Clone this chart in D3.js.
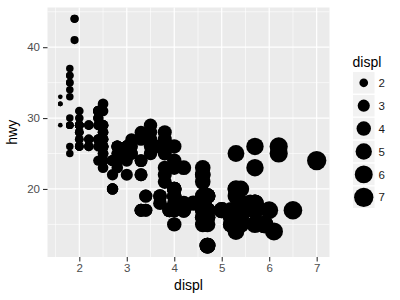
<!DOCTYPE html>
<html><head><meta charset="utf-8">
<script src="https://cdn.jsdelivr.net/npm/d3@7"></script>
<style>body{margin:0;background:#fff}svg{display:block;font-family:"Liberation Sans",Arial,sans-serif}</style>
</head><body><svg id="c" width="400" height="300"></svg>
<script>
const displ = [1.8,1.8,2.0,2.0,2.8,2.8,3.1,1.8,1.8,2.0,2.0,2.8,2.8,3.1,3.1,2.8,3.1,4.2,
5.3,5.3,5.3,5.7,6.0,5.7,5.7,6.2,6.2,7.0,5.3,5.3,5.7,6.5,2.4,2.4,3.1,3.5,3.6,
2.4,3.0,3.3,3.3,3.3,3.3,3.3,3.8,3.8,3.8,4.0,3.7,3.7,3.9,3.9,4.7,4.7,4.7,5.2,5.2,
3.9,4.7,4.7,4.7,5.2,5.7,5.9,4.7,4.7,4.7,4.7,4.7,4.7,5.2,5.2,5.7,5.9,
4.6,5.4,5.4,4.0,4.0,4.0,4.0,4.6,5.0,4.2,4.2,4.6,4.6,4.6,5.4,5.4,3.8,3.8,4.0,4.0,4.6,4.6,4.6,4.6,5.4,
1.6,1.6,1.6,1.6,1.6,1.8,1.8,1.8,2.0,
2.4,2.4,2.4,2.4,2.5,2.5,3.3,2.0,2.0,2.0,2.0,2.7,2.7,2.7,
3.0,3.7,4.0,4.7,4.7,4.7,5.7,6.1,4.0,4.2,4.4,4.6,5.4,5.4,5.4,4.0,4.0,4.6,5.0,
2.4,2.4,2.5,2.5,3.5,3.5,3.0,3.0,3.5,3.3,3.3,4.0,5.6,3.1,3.8,3.8,3.8,5.3,
2.5,2.5,2.5,2.5,2.5,2.5,2.2,2.2,2.5,2.5,2.5,2.5,2.5,2.5,
2.7,2.7,3.4,3.4,4.0,4.7,2.2,2.2,2.4,2.4,3.0,3.0,3.5,2.2,2.2,2.4,2.4,3.0,3.0,3.3,
1.8,1.8,1.8,1.8,1.8,4.7,5.7,2.7,2.7,2.7,3.4,3.4,4.0,4.0,
2.0,2.0,2.0,2.0,2.8,1.9,2.0,2.0,2.0,2.0,2.5,2.5,2.8,2.8,1.9,1.9,2.0,2.0,2.5,2.5,1.8,1.8,2.0,2.0,2.8,2.8,3.6];
const hwy = [29,29,31,30,26,26,27,26,25,28,27,25,25,25,25,24,25,23,
20,15,20,17,17,26,23,26,25,24,19,14,15,17,27,30,26,29,26,
24,24,22,22,24,24,17,22,21,23,23,19,18,17,17,19,19,12,17,15,
17,17,12,17,16,18,15,16,12,17,17,16,17,15,16,17,15,
17,17,18,17,19,17,19,19,17,17,17,16,16,17,15,17,26,25,26,24,21,22,23,22,20,
33,32,32,29,32,34,36,36,29,
26,27,30,31,26,26,28,26,29,28,27,24,24,24,
22,19,20,17,12,19,18,14,15,18,18,15,17,16,18,17,19,19,17,
29,27,31,32,27,26,26,25,25,17,17,20,18,26,26,27,28,25,
25,24,27,25,26,23,26,26,26,26,28,27,24,27,
20,20,19,17,20,19,29,27,31,31,26,26,28,27,29,31,31,26,26,27,
30,33,35,37,35,15,18,20,20,22,17,19,18,20,
29,26,29,29,24,44,29,26,29,29,29,29,23,24,44,41,29,26,28,29,29,29,28,29,26,26,26];
const xTicks = [2,3,4,5,6,7];
const yTicks = [20,30,40];
const xMinor = [1.5,2.5,3.5,4.5,5.5,6.5];
const yMinor = [15,25,35,45];
const legendBreaks = [2,3,4,5,6,7];

const svg = d3.select("#c");
const L = 47.5, R = 329.5, T = 7.5, B = 257;
const xe = d3.extent(displ), ye = d3.extent(hwy);
const xp = (xe[1]-xe[0])*0.05, yp = (ye[1]-ye[0])*0.05;
const x = d3.scaleLinear().domain([xe[0]-xp, xe[1]+xp]).range([L, R]);
const y = d3.scaleLinear().domain([ye[0]-yp, ye[1]+yp]).range([B, T]);
const t = d3.scaleLinear().domain(xe).range([0, 1]);
const sz = v => 1 + 5 * Math.sqrt(t(v));
const rad = v => (2.92 * sz(v) + 1.8) / 2;

svg.append("rect").attr("x", L).attr("y", T).attr("width", R-L).attr("height", B-T).attr("fill", "#EBEBEB");
const g = svg.append("g");
g.selectAll(".xm").data(xMinor).join("line").attr("x1", d=>x(d)).attr("x2", d=>x(d)).attr("y1", T).attr("y2", B).attr("stroke", "#fff").attr("stroke-width", 0.6);
g.selectAll(".ym").data(yMinor).join("line").attr("y1", d=>y(d)).attr("y2", d=>y(d)).attr("x1", L).attr("x2", R).attr("stroke", "#fff").attr("stroke-width", 0.6);
g.selectAll(".xM").data(xTicks).join("line").attr("x1", d=>x(d)).attr("x2", d=>x(d)).attr("y1", T).attr("y2", B).attr("stroke", "#fff").attr("stroke-width", 1.2);
g.selectAll(".yM").data(yTicks).join("line").attr("y1", d=>y(d)).attr("y2", d=>y(d)).attr("x1", L).attr("x2", R).attr("stroke", "#fff").attr("stroke-width", 1.2);

svg.append("g").selectAll("circle").data(displ.map((d,i)=>[d,hwy[i]])).join("circle")
  .attr("cx", d=>x(d[0])).attr("cy", d=>y(d[1])).attr("r", d=>rad(d[0])).attr("fill", "#000");

const ax = svg.append("g").attr("transform", `translate(0,${B})`)
  .call(d3.axisBottom(x).tickValues(xTicks).tickFormat(d3.format("d")).tickSize(4.5).tickPadding(2.5));
const ay = svg.append("g").attr("transform", `translate(${L},0)`)
  .call(d3.axisLeft(y).tickValues(yTicks).tickFormat(d3.format("d")).tickSize(4.5).tickPadding(3));
[ax, ay].forEach(a => {
  a.select(".domain").remove();
  a.selectAll(".tick line").attr("stroke", "#333333").attr("stroke-width", 1.1);
  a.selectAll(".tick text").attr("fill", "#4D4D4D").attr("font-size", 11.5).attr("font-family", "Liberation Sans, Arial, sans-serif");
});

svg.append("text").attr("x", (L+R)/2).attr("y", 290).attr("text-anchor", "middle").attr("font-size", 14).attr("fill", "#000").text("displ");
svg.append("text").attr("transform", `translate(17,${(T+B)/2}) rotate(-90)`).attr("text-anchor", "middle").attr("font-size", 14).attr("fill", "#000").text("hwy");

// legend
const lg = svg.append("g");
lg.append("text").attr("x", 352.5).attr("y", 67).attr("font-size", 14).attr("fill", "#000").text("displ");
const ks = 21.5, step = 22.9, c0 = 82.8, kx = 353;
const keys = lg.selectAll("g.k").data(legendBreaks).join("g").attr("transform", (d,i)=>`translate(${kx},${c0 + i*step})`);
keys.append("rect").attr("x", 0).attr("y", -ks/2).attr("width", ks).attr("height", ks).attr("fill", "#F2F2F2");
keys.append("circle").attr("cx", ks/2).attr("cy", 0).attr("r", d=>rad(d)).attr("fill", "#000");
keys.append("text").attr("x", ks + 4).attr("y", 0).attr("dy", "0.36em").attr("font-size", 11.5).attr("fill", "#1A1A1A").text(d=>d);
</script></body></html>
